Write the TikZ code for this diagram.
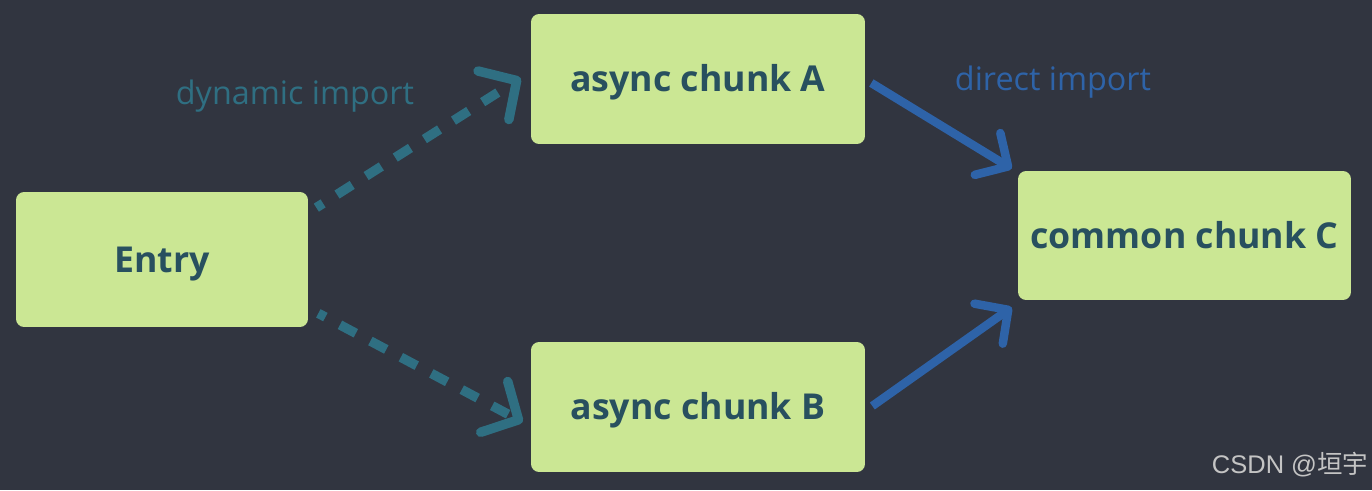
\documentclass[tikz,border=0pt]{standalone}
\usepackage{fontspec}
\setmainfont{Open Sans}
\newfontfamily\cjkfont{Noto Sans CJK SC}
\newfontfamily\wmfont{Liberation Sans}
\usetikzlibrary{arrows.meta,calc}
\definecolor{bg}{HTML}{313540}
\definecolor{boxfill}{HTML}{CBE794}
\definecolor{boxtext}{HTML}{28505F}
\definecolor{dyncol}{HTML}{2F6F82}
\definecolor{dircol}{HTML}{2E63A8}
\definecolor{wmcol}{HTML}{C4C4C4}
\tikzset{
  chunkbox/.style={fill=boxfill, rounded corners=0.16cm, inner sep=0pt, text=boxtext,
    font=\bfseries\fontsize{20.3}{24}\selectfont, text height=14.5pt, text depth=0pt},
  lbl/.style={inner sep=0pt, font=\fontsize{18.4}{22}\selectfont, text height=14pt, text depth=0pt},
  dynarrow/.style={draw=dyncol, line width=0.19cm, dash pattern=on 0.36cm off 0.33cm, dash phase=0.2cm,
    -{Straight Barb[length=0.55cm,width=1.15cm,line cap=round,line join=round]}},
  dirarrow/.style={draw=dircol, line width=0.17cm,
    -{Straight Barb[length=0.48cm,width=0.98cm,line cap=round,line join=round]}}
}
\begin{document}
\begin{tikzpicture}[x=0.02cm,y=-0.02cm]
\fill[bg] (0,0) rectangle (1372,490);
\useasboundingbox (0,0) rectangle (1372,490);

\node[chunkbox, minimum width=5.84cm, minimum height=2.7cm] (entry) at (162,259.5) {Entry};
\node[chunkbox, minimum width=6.68cm, minimum height=2.6cm] (a) at (698,79) {async chunk A};
\node[chunkbox, minimum width=6.68cm, minimum height=2.6cm] (b) at (698,407) {async chunk B};
\node[chunkbox, minimum width=6.66cm, minimum height=2.58cm] (c) at (1184.5,235.5) {common chunk C};

\node[lbl, text=dyncol] (dynlbl) at (295,92.5) {dynamic import};
\node[lbl, text=dircol] (dirlbl) at (1053,78) {direct import};

\draw[dynarrow] ($(entry.north east)+(8,16)$) -- ($(a.west)+(-10,-1)$);
\draw[dynarrow] ($(entry.south east)+(10,-14)$) -- ($(b.west)+(-8,15)$);
\draw[dirarrow] ($(a.east)+(6,4)$) -- ($(c.north west)+(-6,-2)$);
\draw[dirarrow] ($(b.east)+(7,-1)$) -- ($(c.south west)+(-6,7)$);

\node[inner sep=0pt, text=wmcol, font=\wmfont\fontsize{14.5}{17}\selectfont] (wm) at (1290,465) {CSDN @{\cjkfont 垣宇}};
\end{tikzpicture}
\end{document}
